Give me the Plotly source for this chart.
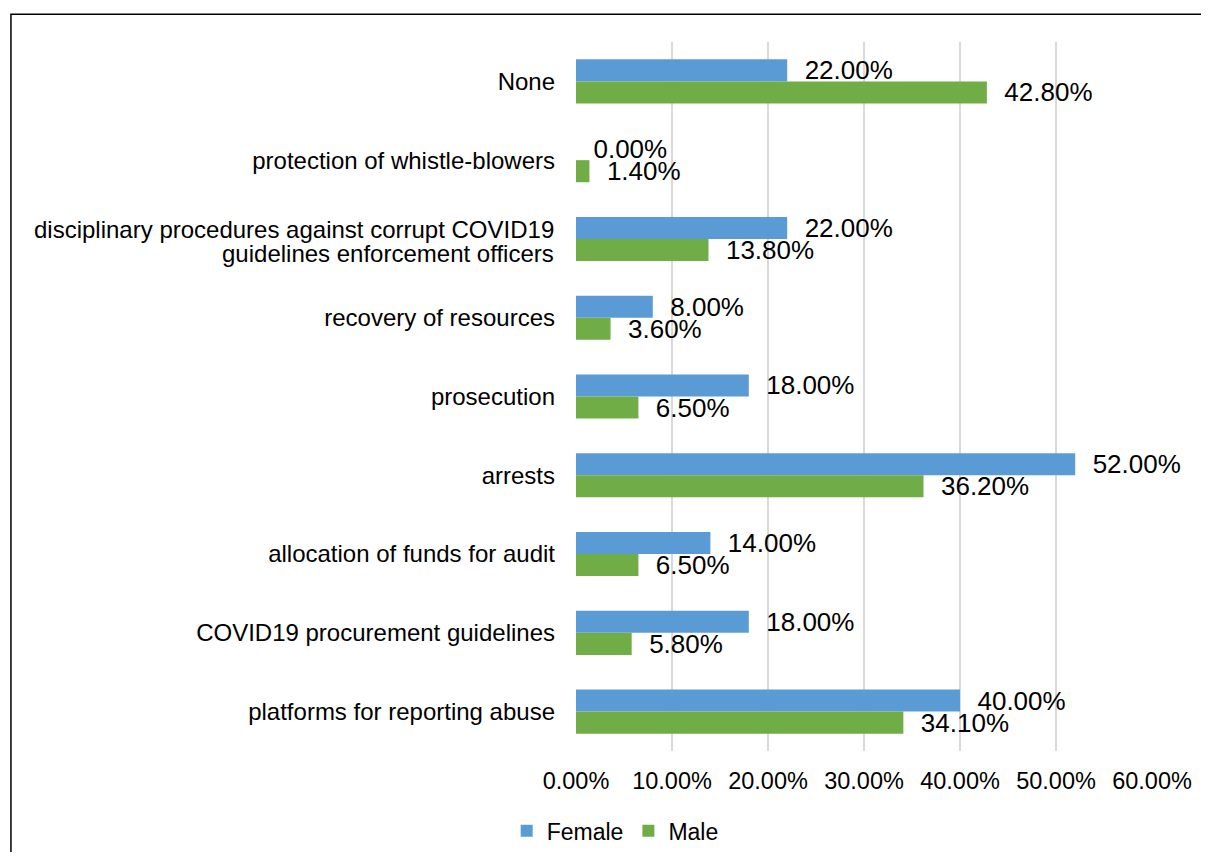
import plotly.graph_objects as go

categories = [
    "None",
    "protection of whistle-blowers",
    "disciplinary procedures against corrupt COVID19<br>guidelines enforcement officers",
    "recovery of resources",
    "prosecution",
    "arrests",
    "allocation of funds for audit",
    "COVID19 procurement guidelines",
    "platforms for reporting abuse",
]
female = [0.22, 0.00, 0.22, 0.08, 0.18, 0.52, 0.14, 0.18, 0.40]
male = [0.428, 0.014, 0.138, 0.036, 0.065, 0.362, 0.065, 0.058, 0.341]
x_ticks = [0, 0.1, 0.2, 0.3, 0.4, 0.5, 0.6]

FONT = "Liberation Sans, Arial, sans-serif"
pad = "\u00a0\u00a0"

fig = go.Figure()
for name, vals, color in [("Female", female, "#5B9BD5"), ("Male", male, "#70AD47")]:
    fig.add_trace(go.Bar(
        name=name, y=categories, x=vals, orientation="h",
        marker=dict(color=color, line=dict(width=0)),
        texttemplate=pad + "%{x:.2%}", textposition="outside",
        textfont=dict(size=26, color="black", family=FONT),
        cliponaxis=False, constraintext="none",
    ))

# multi-line category label: draw its lines with tight spacing like the original
ticktext = [c if "<br>" not in c else "" for c in categories]
annotations = []
for c in categories:
    if "<br>" in c:
        for i, line in enumerate(c.split("<br>")):
            annotations.append(dict(
                x=0, y=c, xref="x", yref="y", text=line, showarrow=False,
                xanchor="right", yanchor="middle", xshift=-20,
                yshift=9 - 24 * i, font=dict(size=24, color="black", family=FONT),
            ))

fig.update_layout(
    width=1193, height=844,
    margin=dict(l=568, r=49, t=34, b=101, autoexpand=False),
    paper_bgcolor="white", plot_bgcolor="white",
    font=dict(family=FONT, size=24, color="black"),
    barmode="group", bargap=0.44, bargroupgap=0,
    showlegend=True,
    legend=dict(orientation="h", xref="container", yref="container",
                x=0.418, xanchor="left", y=0.025, yanchor="middle",
                font=dict(size=23), traceorder="normal", itemwidth=30),
    annotations=annotations,
    shapes=[dict(type="rect", xref="paper", yref="paper",
                 x0=-0.981, x1=1.5, y0=-0.5, y1=1.039,
                 line=dict(color="black", width=1.5), layer="below")],
)
fig.update_xaxes(
    range=[0, 0.6], tickvals=x_ticks, tickformat=".2%",
    showgrid=True, gridcolor="#D9D9D9", gridwidth=1.5,
    zeroline=False, showline=False, ticks="", automargin=False,
    ticklabelstandoff=13, tickfont=dict(size=23.5),
)
fig.update_yaxes(
    autorange="reversed", tickvals=categories, ticktext=ticktext,
    showgrid=False, showline=False, ticks="", automargin=False,
    ticklabelstandoff=20, tickfont=dict(size=24),
)

fig.write_html("out.html")
